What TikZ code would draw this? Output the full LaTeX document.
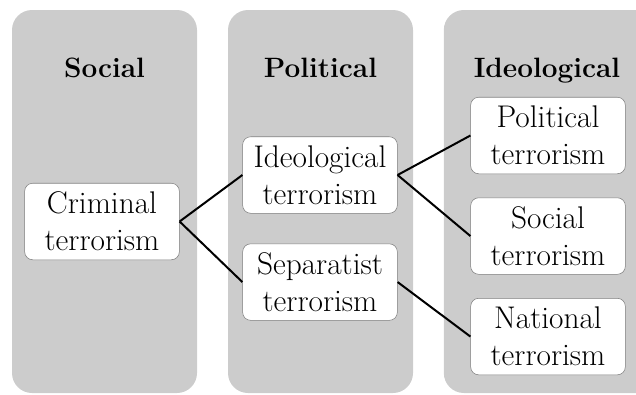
\documentclass[tikz,border=0pt]{standalone}
\usetikzlibrary{positioning}
\definecolor{colgrey}{RGB}{204,204,204}
\definecolor{boxedge}{RGB}{125,125,125}

\begin{document}
\begin{tikzpicture}[x=0.75pt, y=-0.75pt,
column/.style={rectangle, rounded corners=15pt, fill=colgrey, inner sep=0pt, minimum width=138.75pt, minimum height=287.25pt},
header/.style={anchor=base, font=\fontsize{21}{25}\selectfont\bfseries},
termbox/.style={rectangle, rounded corners=6pt, draw=boxedge, fill=white, thin, minimum width=116pt, minimum height=57.4pt, align=center, inner sep=0pt, font=\fontsize{23.5}{28}\selectfont},
link/.style={line width=1.5pt},
]
\clip (0,0) rectangle (636,394);
\useasboundingbox (0,0) rectangle (636,394);

%Columns
\node[column]                     (socialcol)   at (104.5,201.5) {};
\node[column]                     (politcol)    at (320.5,201.5) {};
\node[column, minimum width=160pt] (ideocol)    at (550.5,201.5) {};

%Headers
\node[header] (socialhead) at (104.5,77) {Social};
\node[header] (polithead)  at (320.5,77) {Political};
\node[header] (ideohead)   at (547,77)   {Ideological};

%Nodes
\node[termbox] (criminal)                        at (102,221.5) {Criminal\\terrorism};
\node[termbox] (ideoterr)                        at (320,175)   {Ideological\\terrorism};
\node[termbox] (separterr) [below=22.5pt of ideoterr]           {Separatist\\terrorism};
\node[termbox] (politterr)                       at (548,135.5) {Political\\terrorism};
\node[termbox] (socialterr) [below=17.6pt of politterr]         {Social\\terrorism};
\node[termbox] (natterr)    [below=17.6pt of socialterr]        {National\\terrorism};

%Lines
\draw[link] (criminal.east) -- (ideoterr.west);
\draw[link] (criminal.east) -- (separterr.west);
\draw[link] (ideoterr.east) -- (politterr.west);
\draw[link] (ideoterr.east) -- (socialterr.west);
\draw[link] (separterr.east) -- (natterr.west);
\end{tikzpicture}
\end{document}
